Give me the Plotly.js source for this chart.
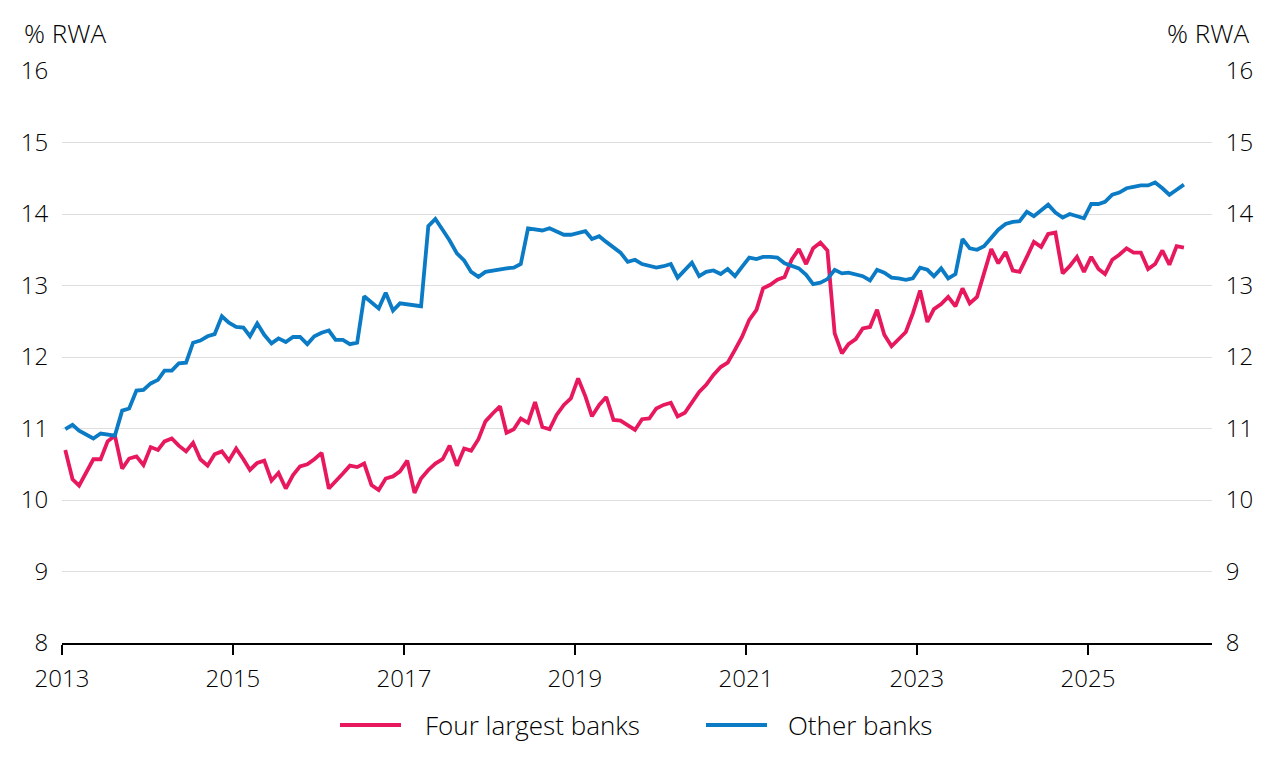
<!DOCTYPE html>
<html>
<head>
<meta charset="utf-8">
<script src="https://cdn.plot.ly/plotly-3.0.1.min.js"></script>
<style>html,body{margin:0;padding:0;background:#fff;}#chart{width:1279px;height:757px;}</style>
</head>
<body>
<div id="chart"></div>
<script>
// Monthly observations, Jan 2013 – Feb 2026
const startYear = 2013;
const startMonth = 1;
const fourLargest = [
  10.70, 10.29, 10.20, 10.40, 10.57, 10.57, 10.82, 10.90, 10.44, 10.58, 10.61, 10.49,
  10.74, 10.70, 10.82, 10.86, 10.76, 10.68, 10.80, 10.57, 10.48, 10.64, 10.68, 10.55,
  10.72, 10.57, 10.42, 10.52, 10.55, 10.27, 10.38, 10.16, 10.35, 10.47, 10.50, 10.57,
  10.66, 10.16, 10.27, 10.37, 10.48, 10.46, 10.51, 10.21, 10.14, 10.30, 10.33, 10.40,
  10.55, 10.10, 10.30, 10.42, 10.51, 10.57, 10.76, 10.48, 10.72, 10.69, 10.85, 11.10,
  11.21, 11.31, 10.94, 10.99, 11.14, 11.08, 11.37, 11.02, 10.99, 11.19, 11.33, 11.42,
  11.70, 11.45, 11.17, 11.33, 11.44, 11.12, 11.11, 11.05, 10.98, 11.13, 11.14, 11.28,
  11.33, 11.36, 11.17, 11.22, 11.36, 11.51, 11.61, 11.75, 11.86, 11.92, 12.10, 12.28,
  12.52, 12.66, 12.96, 13.01, 13.08, 13.12, 13.36, 13.51, 13.30, 13.52, 13.60, 13.49,
  12.33, 12.05, 12.18, 12.25, 12.40, 12.42, 12.66, 12.31, 12.15, 12.25, 12.35, 12.61,
  12.93, 12.49, 12.67, 12.74, 12.84, 12.71, 12.96, 12.75, 12.84, 13.17, 13.51, 13.31,
  13.47, 13.21, 13.19, 13.40, 13.61, 13.54, 13.72, 13.74, 13.17, 13.27, 13.40, 13.19,
  13.40, 13.23, 13.16, 13.36, 13.43, 13.52, 13.46, 13.46, 13.23, 13.30, 13.49, 13.29,
  13.55, 13.53
];
const otherBanks = [
  10.99, 11.05, 10.97, 10.92, 10.86, 10.93, 10.92, 10.90, 11.25, 11.28, 11.53, 11.54,
  11.63, 11.68, 11.81, 11.81, 11.91, 11.92, 12.20, 12.23, 12.29, 12.32, 12.57, 12.48,
  12.42, 12.41, 12.29, 12.47, 12.31, 12.19, 12.26, 12.21, 12.28, 12.28, 12.18, 12.29,
  12.34, 12.37, 12.24, 12.24, 12.18, 12.20, 12.85, 12.77, 12.68, 12.90, 12.65, 12.75,
  12.74, 12.73, 12.71, 13.83, 13.93, 13.78, 13.63, 13.45, 13.35, 13.19, 13.12, 13.19,
  13.21, 13.22, 13.24, 13.25, 13.30, 13.80, 13.78, 13.77, 13.80, 13.75, 13.71, 13.71,
  13.73, 13.76, 13.65, 13.69, 13.61, 13.53, 13.46, 13.33, 13.36, 13.30, 13.27, 13.25,
  13.27, 13.30, 13.11, 13.22, 13.32, 13.13, 13.19, 13.21, 13.16, 13.23, 13.13, 13.26,
  13.39, 13.37, 13.40, 13.40, 13.39, 13.31, 13.27, 13.24, 13.15, 13.02, 13.04, 13.09,
  13.22, 13.17, 13.18, 13.15, 13.13, 13.07, 13.22, 13.18, 13.11, 13.10, 13.08, 13.10,
  13.25, 13.22, 13.13, 13.24, 13.10, 13.16, 13.65, 13.52, 13.50, 13.55, 13.66, 13.78,
  13.86, 13.89, 13.90, 14.03, 13.97, 14.05, 14.13, 14.02, 13.95, 14.00, 13.97, 13.94,
  14.14, 14.14, 14.17, 14.27, 14.30, 14.36, 14.38, 14.40, 14.40, 14.44, 14.36, 14.27,
  14.34, 14.41
];
const seriesNames = ['Four largest banks', 'Other banks'];
const yTicks = [8, 9, 10, 11, 12, 13, 14, 15, 16];
const xTickYears = ['2013', '2015', '2017', '2019', '2021', '2023', '2025'];
const axisTitle = '% RWA';

function monthDates(n) {
  const out = [];
  for (let i = 0; i < n; i++) {
    const m = startMonth - 1 + i;
    const y = startYear + Math.floor(m / 12);
    const mm = (m % 12) + 1;
    out.push(y + '-' + String(mm).padStart(2, '0') + '-15');
  }
  return out;
}
const dates = monthDates(otherBanks.length);

const RED = '#E8185E';
const BLUE = '#0A7BC4';
const FONT = 'Open Sans, Noto Sans, sans-serif';
const TXT = '#000000';

const traces = [
  {x: dates, y: fourLargest, name: seriesNames[0], type: 'scatter', mode: 'lines',
   line: {color: RED, width: 3.8}, hoverinfo: 'skip', showlegend: false},
  {x: dates, y: otherBanks, name: seriesNames[1], type: 'scatter', mode: 'lines',
   line: {color: BLUE, width: 3.8}, hoverinfo: 'skip', showlegend: false},
  {x: dates, y: otherBanks, yaxis: 'y2', type: 'scatter', mode: 'lines',
   line: {color: 'rgba(0,0,0,0)', width: 0}, showlegend: false, hoverinfo: 'skip'}
];

// custom legend (paper coordinates), plot area spans x 62..1212, y 71..643
const PX = px => (px - 62) / 1150;
const PY = py => (643 - py) / 572;
const legendY = PY(725);

const layout = {
  width: 1279, height: 757,
  paper_bgcolor: '#fff', plot_bgcolor: '#fff',
  margin: {l: 62, r: 67, t: 71, b: 114},
  font: {family: FONT, size: 24, color: TXT, weight: 300},
  showlegend: false,
  xaxis: {
    type: 'date', range: ['2013-01-01', '2026-06-15'],
    tickvals: xTickYears.map(y => y + '-01-01'), ticktext: xTickYears,
    showgrid: false, showline: true, linecolor: '#000', linewidth: 2,
    ticks: 'outside', ticklen: 10, tickwidth: 2, tickcolor: '#000',
    ticklabelstandoff: 3,
    zeroline: false, fixedrange: true
  },
  yaxis: {
    range: [8, 16], tickvals: yTicks, ticktext: yTicks.map(String),
    showgrid: true, gridcolor: '#dedede', gridwidth: 1,
    zeroline: false, showline: false,
    ticks: 'outside', ticklen: 8, tickcolor: 'rgba(0,0,0,0)', fixedrange: true
  },
  yaxis2: {
    range: [8, 16], tickvals: yTicks, ticktext: yTicks.map(String),
    overlaying: 'y', side: 'right', showgrid: false, zeroline: false, showline: false,
    ticks: 'outside', ticklen: 8, tickcolor: 'rgba(0,0,0,0)', fixedrange: true
  },
  shapes: [
    {type: 'line', xref: 'paper', yref: 'paper', x0: PX(340), x1: PX(401), y0: legendY, y1: legendY,
     line: {color: RED, width: 4}},
    {type: 'line', xref: 'paper', yref: 'paper', x0: PX(706), x1: PX(767), y0: legendY, y1: legendY,
     line: {color: BLUE, width: 4}}
  ],
  annotations: [
    {text: axisTitle, xref: 'paper', yref: 'paper', x: PX(22), y: PY(33),
     xanchor: 'left', yanchor: 'middle', showarrow: false, font: {size: 26}},
    {text: axisTitle, xref: 'paper', yref: 'paper', x: PX(1251), y: PY(33),
     xanchor: 'right', yanchor: 'middle', showarrow: false, font: {size: 26}},
    {text: seriesNames[0], xref: 'paper', yref: 'paper', x: PX(423), y: legendY,
     xanchor: 'left', yanchor: 'middle', showarrow: false, font: {size: 26}},
    {text: seriesNames[1], xref: 'paper', yref: 'paper', x: PX(786), y: legendY,
     xanchor: 'left', yanchor: 'middle', showarrow: false, font: {size: 26}}
  ]
};

Plotly.newPlot('chart', traces, layout, {staticPlot: true, displayModeBar: false});
</script>
</body>
</html>
